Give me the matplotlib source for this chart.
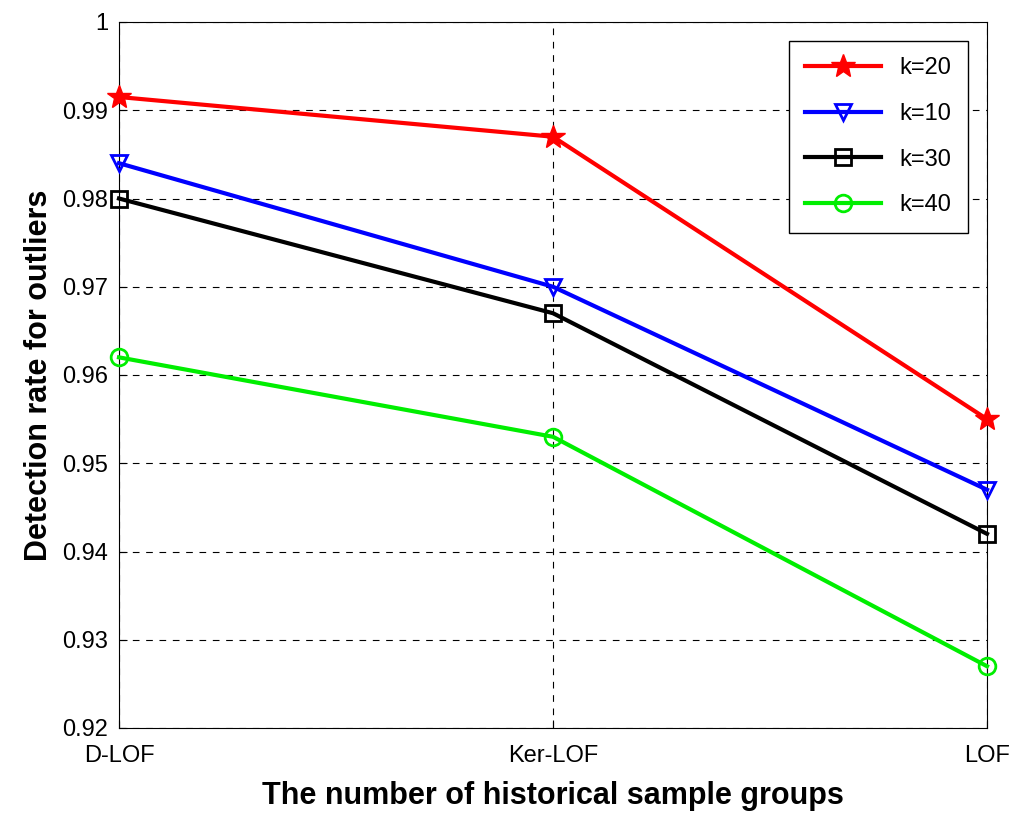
import matplotlib
matplotlib.use("Agg")
import matplotlib.pyplot as plt

plt.rcParams["font.family"] = "Liberation Sans"

categories = ["D-LOF", "Ker-LOF", "LOF"]
k20 = [0.9915, 0.987, 0.955]
k10 = [0.984, 0.970, 0.947]
k30 = [0.980, 0.967, 0.942]
k40 = [0.962, 0.953, 0.927]
yticks = [0.92, 0.93, 0.94, 0.95, 0.96, 0.97, 0.98, 0.99, 1.0]
yticklabels = ["0.92", "0.93", "0.94", "0.95", "0.96", "0.97", "0.98", "0.99", "1"]

fig = plt.figure(figsize=(10.24, 8.21), dpi=100)
ax = fig.add_axes([119/1024, 1-728/821, (987-119)/1024, (728-22)/821])
x = list(range(len(categories)))
ax.plot(x, k20, color="red", lw=3, marker="*", ms=18, mfc="red", mec="red", label="k=20", clip_on=False, zorder=5)
ax.plot(x, k10, color="blue", lw=3, marker="v", ms=12, mfc="none", mec="blue", mew=2, label="k=10", clip_on=False, zorder=5)
ax.plot(x, k30, color="black", lw=3, marker="s", ms=12, mfc="none", mec="black", mew=2, label="k=30", clip_on=False, zorder=5)
ax.plot(x, k40, color="#00ee00", lw=3, marker="o", ms=12, mfc="none", mec="#00ee00", mew=2, label="k=40", clip_on=False, zorder=5)

ax.set_xlim(0, 2)
ax.set_ylim(0.92, 1.0)
ax.set_xticks(x)
ax.set_xticklabels(categories, fontsize=17)
ax.set_yticks(yticks)
ax.set_yticklabels(yticklabels, fontsize=17)
ax.grid(True, color="black", linestyle=(0, (6, 6)), lw=0.8)
ax.tick_params(direction="in", length=6)
ax.tick_params(axis="x", pad=12)
ax.tick_params(axis="y", pad=8)
ax.set_xlabel("The number of historical sample groups", fontsize=22, fontweight="bold", labelpad=10)
ax.set_ylabel("Detection rate for outliers", fontsize=22, fontweight="bold", labelpad=6)
leg = ax.legend(loc="upper right", fontsize=17, fancybox=False, framealpha=1,
                edgecolor="black", borderaxespad=0.8, handlelength=3.2, labelspacing=1.0,
                borderpad=0.7)
leg.get_frame().set_linewidth(1)
fig.savefig("out.png", dpi=100)
